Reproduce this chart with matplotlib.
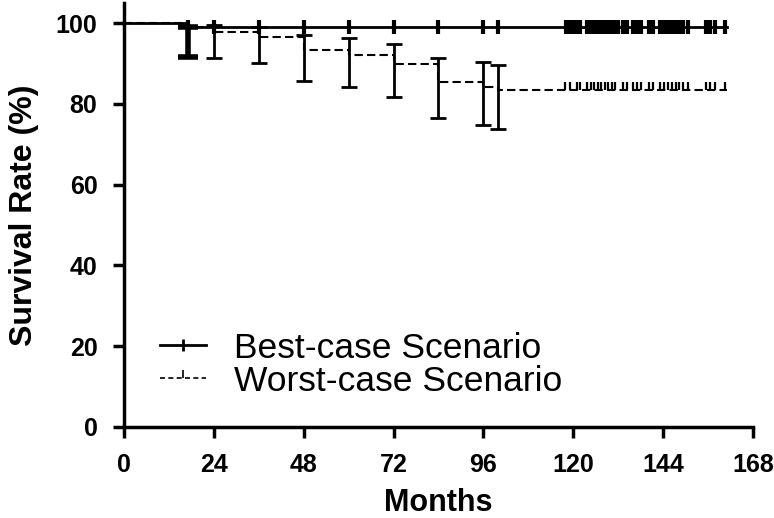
import numpy as np
import matplotlib.pyplot as plt
from matplotlib.lines import Line2D

plt.rcParams['font.family'] = ['Liberation Sans', 'DejaVu Sans']

# best-case scenario (solid)
best_times = [0, 17, 161]
best_surv = [100, 99, 99]
best_err_t = [17]
best_err_lo = [91.6]
best_err_hi = [99]

# worst-case scenario (dashed)
worst_times = [0, 17, 24, 36, 48, 60, 72, 84, 96, 100, 161]
worst_surv = [100, 99, 97.8, 96.6, 93.3, 92.1, 90.0, 85.4, 84.3, 83.4, 83.4]
worst_err_t = [24, 36, 48, 60, 72, 84, 96, 100]
worst_err_val = [97.8, 96.6, 93.3, 92.1, 90.0, 85.4, 84.3, 83.4]
worst_err_lo = [91.4, 90.1, 85.8, 84.3, 81.6, 76.4, 74.9, 73.7]
worst_err_hi = [99.5, 99.0, 97.1, 96.3, 94.9, 91.3, 90.5, 89.6]

# censored observations
tail = [118, 119, 120, 121, 121.8, 123.7, 124.6, 125.5, 126.5, 127.4, 128.4,
        129.3, 130.2, 131.1, 131.9, 133.3, 134.2, 136, 137, 138.2, 140.2,
        141.4, 143.2, 144.2, 145.2, 146.3, 147.3, 148.3, 149.3, 150.5,
        155.3, 156.5, 157.8, 160.5]
best_censor = [17, 24, 36, 48, 60, 72, 84, 96, 100] + tail
worst_censor = [117.8, 119, 120.9, 121.8, 123.7, 124.6, 125.5, 126.5, 127.4,
                128.4, 129.3, 130.2, 131.1, 133.3, 134.2, 136, 137, 138.2,
                140.2, 141.4, 143.2, 144.2, 145.2, 146.3, 147.3, 148.3,
                149.3, 150.5, 155.3, 156.5, 157.8, 160.5]

fig = plt.figure(figsize=(7.74, 5.18), dpi=100)
ax = fig.add_axes([0.160, 0.1757, 0.813, 0.8185])

# worst case
ax.step(worst_times, worst_surv, where='post', color='black', lw=1.5,
        linestyle=(0, (4, 2)))
lo = np.array(worst_err_val) - np.array(worst_err_lo)
hi = np.array(worst_err_hi) - np.array(worst_err_val)
ax.errorbar(worst_err_t, worst_err_val, yerr=[lo, hi], fmt='none',
            ecolor='black', elinewidth=2, capsize=6, capthick=2)
ax.plot(worst_censor, [worst_surv[-1]] * len(worst_censor), linestyle='none',
        marker=2, markersize=6, mew=1.6, color='black')

# best case
ax.step(best_times, best_surv, where='post', color='black', lw=2)
ax.errorbar(best_err_t, best_surv[1:2],
            yerr=[[best_surv[1] - best_err_lo[0]], [best_err_hi[0] - best_surv[1]]],
            fmt='none', ecolor='black', elinewidth=4, capsize=7, capthick=4)
ax.plot(best_censor, [best_surv[-1]] * len(best_censor), linestyle='none',
        marker='|', markersize=10, mew=3, color='black')

ax.set_xlim(0, 168)
ax.set_ylim(0, 105)
ax.set_xticks(np.arange(0, 169, 24))
ax.set_yticks(np.arange(0, 101, 20))
for s in ['top', 'right']:
    ax.spines[s].set_visible(False)
for s in ['left', 'bottom']:
    ax.spines[s].set_linewidth(2.5)
ax.tick_params(width=2.5, length=8, labelsize=18, pad=11)
for lab in ax.get_xticklabels() + ax.get_yticklabels():
    lab.set_fontweight('bold')
ax.set_xlabel('Months', fontsize=22, fontweight='bold', labelpad=8)
ax.set_ylabel('Survival Rate (%)', fontsize=23, fontweight='bold', labelpad=12)

handles = [Line2D([], [], color='black', lw=2, marker='|', markersize=8, mew=2),
           Line2D([], [], color='black', lw=1.2, linestyle=(0, (3, 2)),
                  marker=2, markersize=6, mew=1.2)]
ax.legend(handles, ['Best-case Scenario', 'Worst-case Scenario'],
          loc='upper left', bbox_to_anchor=(0.057, 0.225), frameon=False,
          fontsize=25.5, handlelength=1.3, handletextpad=0.8,
          labelspacing=0.0, borderpad=0, borderaxespad=0, numpoints=1)

fig.savefig('out.png', dpi=100)
